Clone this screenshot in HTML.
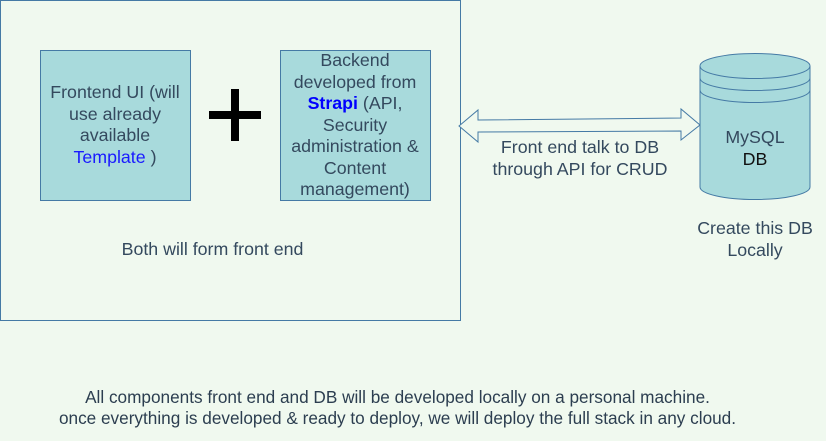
<!DOCTYPE html>
<html><head><style>
body{margin:0;width:826px;height:441px;background:#f0f9ef;font-family:"Liberation Sans",sans-serif;color:#34495e;overflow:hidden;position:relative}
.t{position:absolute;text-align:center;font-size:17.8px;line-height:21.5px;white-space:normal}
</style></head><body>
<svg width="826" height="441" style="position:absolute;left:0;top:0">
<rect x="0.5" y="0.5" width="460" height="320" fill="none" stroke="#457aa5" stroke-width="1"/>
<rect x="40.5" y="50.5" width="150" height="150" fill="#a8dadc" stroke="#457aa5"/>
<rect x="280.5" y="50.5" width="150" height="150" fill="#a8dadc" stroke="#457aa5"/>
<rect x="209" y="111" width="52" height="8" fill="#000"/>
<rect x="231" y="89" width="8" height="52" fill="#000"/>
<path d="M459,126 L478,110 L478,120 L681,118 L681,109 L700,125 L681,140 L681,131 L478,132 L478,142 Z" fill="#f0f9ef" stroke="#457aa5" stroke-width="1"/>
<path d="M700,66 A55,12.5 0 0 1 810,66 L810,187 A55,12.5 0 0 1 700,187 Z" fill="#a8dadc" stroke="#457aa5"/>
<path d="M700,66 A55,12.5 0 0 0 810,66 M700,78 A55,12.5 0 0 0 810,78 M700,90 A55,12.5 0 0 0 810,90" fill="none" stroke="#457aa5"/>
</svg>
<div class="t" style="left:42px;top:82px;width:146px">Frontend UI (will use already available <span style="color:#1a1aff">Template</span> )</div>
<div class="t" style="left:282px;top:50px;width:146px">Backend developed from <b style="color:#0000ff">Strapi</b> (API, Security administration &amp; Content management)</div>
<div class="t" style="left:60px;top:239px;width:305px">Both will form front end</div>
<div class="t" style="left:480px;top:137px;width:200px">Front end talk to DB through API for CRUD</div>
<div class="t" style="left:700px;top:127px;width:110px">MySQL<br><span style="color:#111">DB</span></div>
<div class="t" style="left:690px;top:218px;width:130px">Create this DB Locally</div>
<div class="t" style="left:0;top:387px;width:795px;line-height:21px;font-size:17.2px;color:#2c3e50">All components front end and DB will be developed locally on a personal machine.<br>once everything is developed &amp; ready to deploy, we will deploy the full stack in any cloud.</div>
</body></html>
